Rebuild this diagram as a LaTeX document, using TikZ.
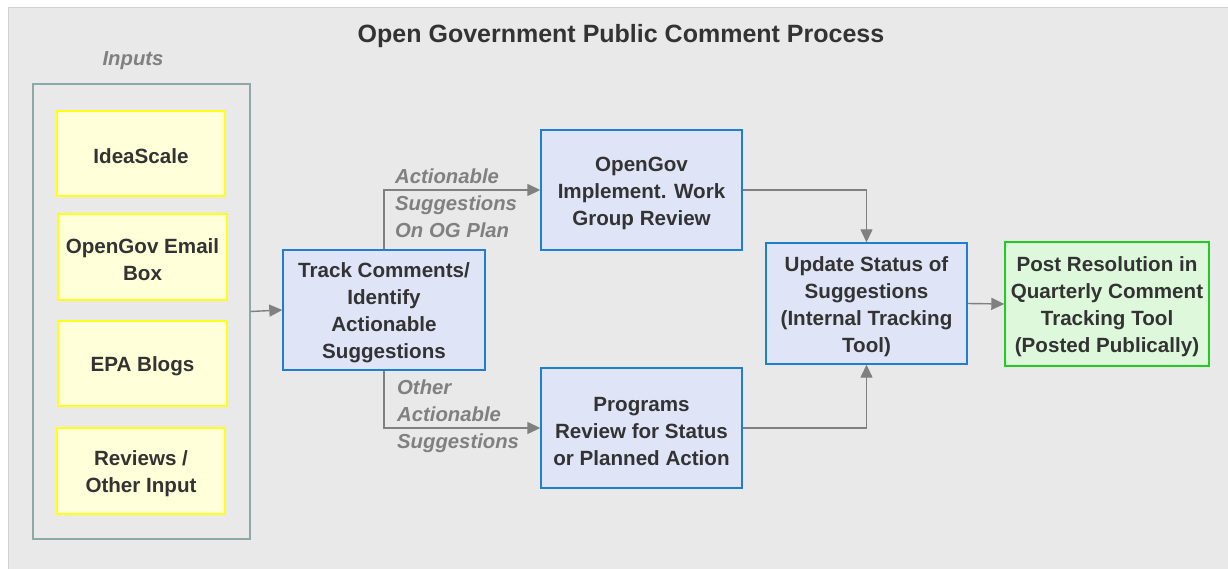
\documentclass[tikz,border=0pt]{standalone}
\usepackage{fontspec}
\setmainfont{Liberation Sans}
\usetikzlibrary{arrows.meta}
\definecolor{panelbg}{HTML}{E9E9E9}
\definecolor{panelline}{HTML}{D2D2D2}
\definecolor{txt}{HTML}{333333}
\definecolor{lbl}{HTML}{808080}
\definecolor{yfill}{HTML}{FFFFD9}
\definecolor{yline}{HTML}{FFFF1A}
\definecolor{bfill}{HTML}{DFE5F7}
\definecolor{bline}{HTML}{1E7FD2}
\definecolor{gfill}{HTML}{DEF8DC}
\definecolor{gline}{HTML}{1FCC1F}
\definecolor{cline}{HTML}{8CA8A8}
\newcommand{\tp}{\rule{0pt}{21pt}}
\tikzset{
  boxtext/.style={font=\fontsize{20.6}{27}\selectfont\bfseries, text=txt, align=center},
  inbox/.style={boxtext, draw=yline, fill=yfill, line width=1.4pt},
  stepbox/.style={boxtext, draw=bline, fill=bfill, line width=1.4pt, minimum width=201pt, minimum height=120pt},
  endbox/.style={boxtext, draw=gline, fill=gfill, line width=1.4pt},
  lab/.style={font=\fontsize{20.3}{27}\selectfont\bfseries\itshape, text=lbl, align=left, inner sep=0pt},
  conn/.style={draw=lbl, line width=1.4pt, -{Triangle[length=13pt,width=12pt]}}
}
\begin{document}
\begin{tikzpicture}[x=1pt,y=-1pt]
\useasboundingbox (0,0) rectangle (1228,569);
\clip (0,0) rectangle (1228,569);
\fill[white] (0,0) rectangle (1228,569);
\draw[panelline, fill=panelbg, line width=1pt] (8,8) rectangle (1250,600);

\node[font=\fontsize{25}{30}\selectfont\bfseries, text=txt] (title) at (621,36) {Open Government Public Comment Process};
\node[font=\fontsize{20.3}{24}\selectfont\bfseries\itshape, text=lbl] (inputs) at (133,61) {Inputs};

\node[draw=cline, line width=1.2pt, minimum width=217pt, minimum height=455pt, inner sep=0pt] (container) at (141.5,311.5) {};

\node[inbox, minimum width=168pt, minimum height=85pt] (idea) at (141,153.5) {\tp IdeaScale};
\node[inbox, minimum width=169pt, minimum height=86pt] (email) at (142.5,257) {\tp OpenGov Email\\Box};
\node[inbox, minimum width=169pt, minimum height=85pt] (blogs) at (142.5,363.5) {\tp EPA Blogs};
\node[inbox, minimum width=168pt, minimum height=86pt] (reviews) at (141,471) {\tp Reviews /\\Other Input};

\node[stepbox, minimum width=202pt] (track) at (384,310) {\tp Track Comments/\\Identify\\Actionable\\Suggestions};
\node[stepbox] (opengov) at (641.5,190) {\tp OpenGov\\Implement. Work\\Group Review};
\node[stepbox] (programs) at (641.5,428) {\tp Programs\\Review for Status\\or Planned Action};
\node[stepbox, minimum height=121pt] (update) at (866.5,303.5) {\tp Update Status of\\Suggestions\\(Internal Tracking\\Tool)};
\node[endbox, minimum width=204pt, minimum height=124pt] (post) at (1107,304) {\tp Post Resolution in\\Quarterly Comment\\Tracking Tool\\(Posted Publically)};

\node[lab, anchor=west] (lab1) at (395,203) {Actionable\\Suggestions\\On OG Plan};
\node[lab, anchor=west] (lab2) at (397,416) {Other\\Actionable\\Suggestions};

\draw[conn] (container.east) -- (track.west);
\draw[conn] (track.north) |- (opengov.west);
\draw[conn] (track.south) |- (programs.west);
\draw[conn] (opengov.east) -| (update.north);
\draw[conn] (programs.east) -| (update.south);
\draw[conn] (update.east) -- (post.west);
\end{tikzpicture}
\end{document}
